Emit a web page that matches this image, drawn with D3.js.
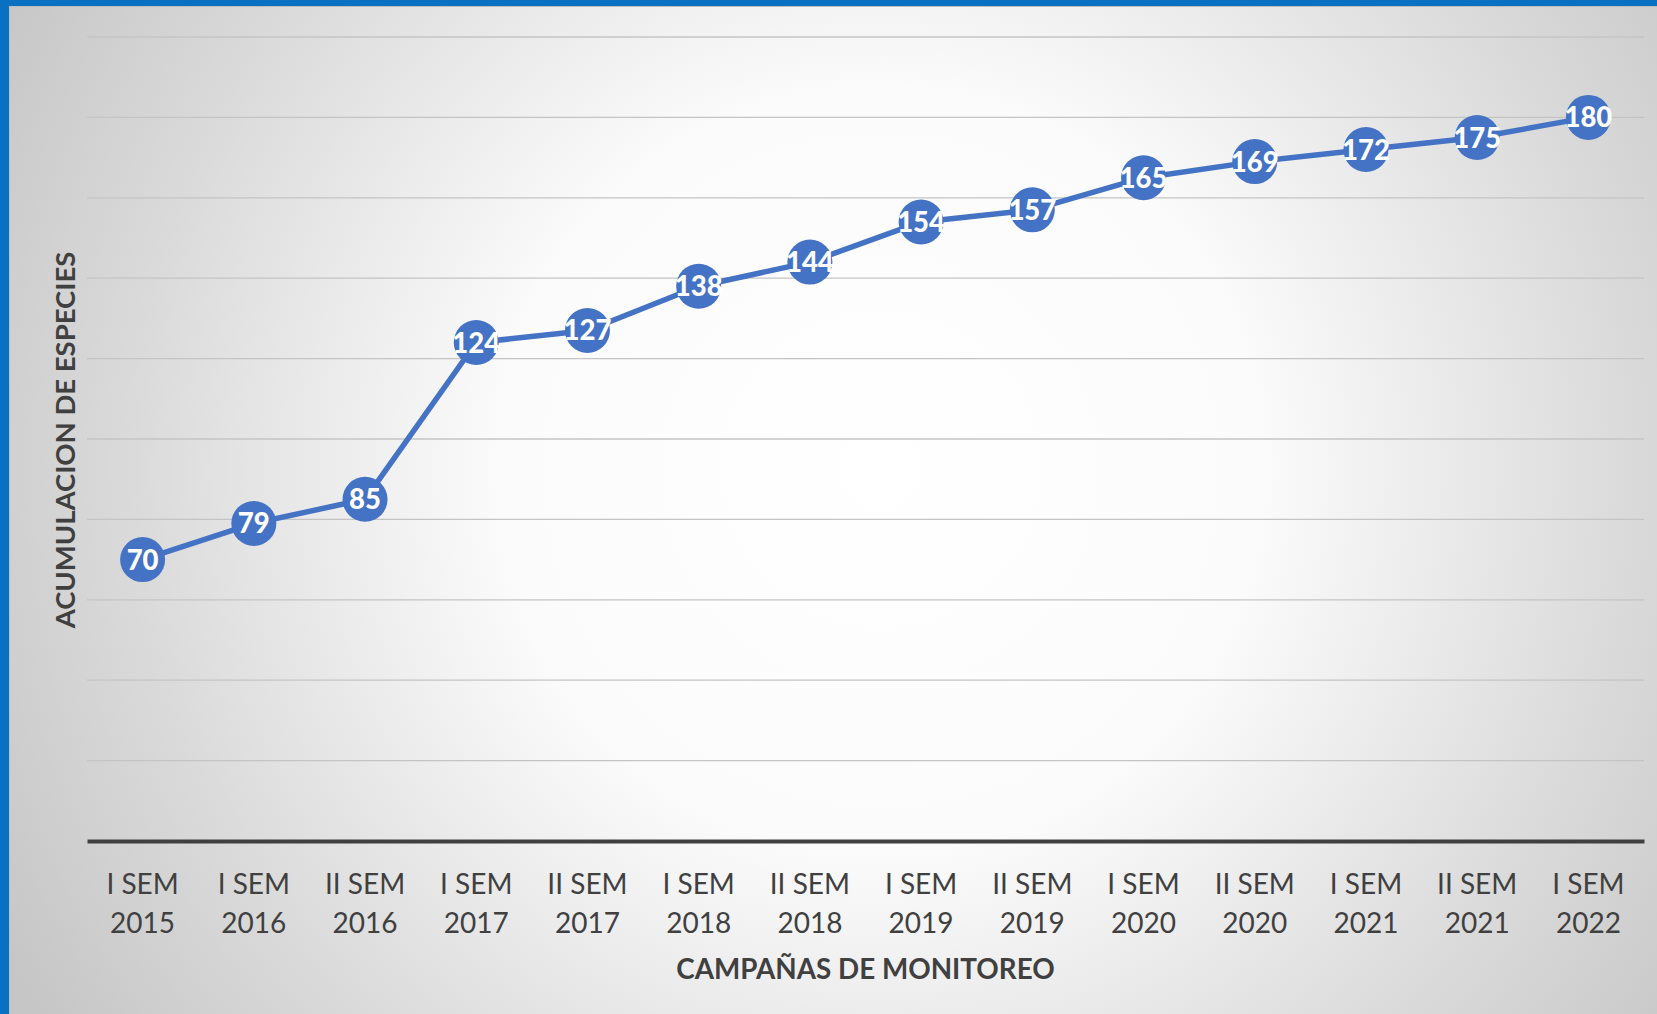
<!DOCTYPE html>
<html>
<head>
<meta charset="utf-8">
<script src="https://cdn.jsdelivr.net/npm/d3@7"></script>
<style>
html,body{margin:0;padding:0;overflow:hidden;background:#fff;}
svg{display:block;}
</style>
</head>
<body>
<script>
const categories = [
  ["I SEM","2015"],["I SEM","2016"],["II SEM","2016"],["I SEM","2017"],
  ["II SEM","2017"],["I SEM","2018"],["II SEM","2018"],["I SEM","2019"],
  ["II SEM","2019"],["I SEM","2020"],["II SEM","2020"],["I SEM","2021"],
  ["II SEM","2021"],["I SEM","2022"]
];
const values = [70,79,85,124,127,138,144,154,157,165,169,172,175,180];
const yTicks = [20,40,60,80,100,120,140,160,180,200];
const xTitle = "CAMPAÑAS DE MONITOREO";
const yTitle = "ACUMULACION DE ESPECIES";

const W = 1657, H = 1014;
const plot = {left: 87, right: 1644, top: 37, bottom: 841};

const svg = d3.select("body").append("svg").attr("width", W).attr("height", H);
const defs = svg.append("defs");
const grad = defs.append("radialGradient").attr("id","bg")
  .attr("gradientUnits","userSpaceOnUse")
  .attr("cx", 880).attr("cy", 470).attr("r", 1000);
grad.append("stop").attr("offset","0").attr("stop-color","#ffffff");
grad.append("stop").attr("offset","0.38").attr("stop-color","#fbfbfb");
grad.append("stop").attr("offset","0.75").attr("stop-color","#dadada");
grad.append("stop").attr("offset","1").attr("stop-color","#c6c6c6");

svg.append("rect").attr("width",W).attr("height",H).attr("fill","url(#bg)");
// blue frame
svg.append("rect").attr("x",0).attr("y",0).attr("width",W).attr("height",6).attr("fill","#0a70c2");
svg.append("rect").attr("x",0).attr("y",0).attr("width",9).attr("height",H).attr("fill","#0a70c2");
svg.append("line").attr("x1",9.5).attr("x2",9.5).attr("y1",6).attr("y2",H).attr("stroke","#bdbdbd").attr("stroke-width",1);
svg.append("line").attr("x1",9).attr("x2",W).attr("y1",6.5).attr("y2",6.5).attr("stroke","#bdbdbd").attr("stroke-width",1);

const x = d3.scaleBand().domain(categories.map((d,i)=>i)).range([plot.left, plot.right]).padding(0);
const y = d3.scaleLinear().domain([0,200]).range([plot.bottom, plot.top]);

// gridlines
svg.append("g").selectAll("line").data(yTicks).join("line")
  .attr("x1", plot.left).attr("x2", plot.right)
  .attr("y1", d=>y(d)).attr("y2", d=>y(d))
  .attr("stroke","#c4c4c4").attr("stroke-width",1.3);

// x axis
const xAxis = d3.axisBottom(x).tickSize(0).tickFormat("");
const gx = svg.append("g").attr("transform",`translate(0,${plot.bottom})`).call(xAxis);
gx.select(".domain").attr("stroke","#404040").attr("stroke-width",4);

const lab = svg.append("g").attr("font-family","Lato, 'Open Sans', sans-serif")
  .attr("font-size",28).attr("fill","#404040").attr("text-anchor","middle");
categories.forEach((c,i)=>{
  const cx = x(i) + x.bandwidth()/2;
  lab.append("text").attr("x",cx).attr("y",894).text(c[0]);
  lab.append("text").attr("x",cx).attr("y",933).text(c[1]);
});

// axis titles
svg.append("text").attr("x",(plot.left+plot.right)/2).attr("y",979)
  .attr("text-anchor","middle").attr("font-family","Lato, sans-serif").attr("font-weight","bold")
  .attr("font-size",27.8).attr("fill","#404040").text(xTitle);
svg.append("text").attr("transform",`translate(75,440) rotate(-90)`)
  .attr("text-anchor","middle").attr("font-family","Lato, sans-serif").attr("font-weight","bold")
  .attr("font-size",27.5).attr("fill","#404040").text(yTitle);

// line
const line = d3.line().x((d,i)=>x(i)+x.bandwidth()/2).y(d=>y(d));
svg.append("path").datum(values).attr("d",line)
  .attr("fill","none").attr("stroke","#4472c4").attr("stroke-width",5.5).attr("stroke-linejoin","round");

const pts = svg.append("g");
pts.selectAll("circle").data(values).join("circle")
  .attr("cx",(d,i)=>x(i)+x.bandwidth()/2).attr("cy",d=>y(d)).attr("r",22.5)
  .attr("fill","#4472c4");
pts.selectAll("text").data(values).join("text")
  .attr("x",(d,i)=>x(i)+x.bandwidth()/2).attr("y",d=>y(d)+10)
  .attr("text-anchor","middle").attr("font-family","Lato, sans-serif").attr("font-weight","900")
  .attr("font-size",27.5).attr("fill","#ffffff").text(d=>d);
</script>
</body>
</html>
